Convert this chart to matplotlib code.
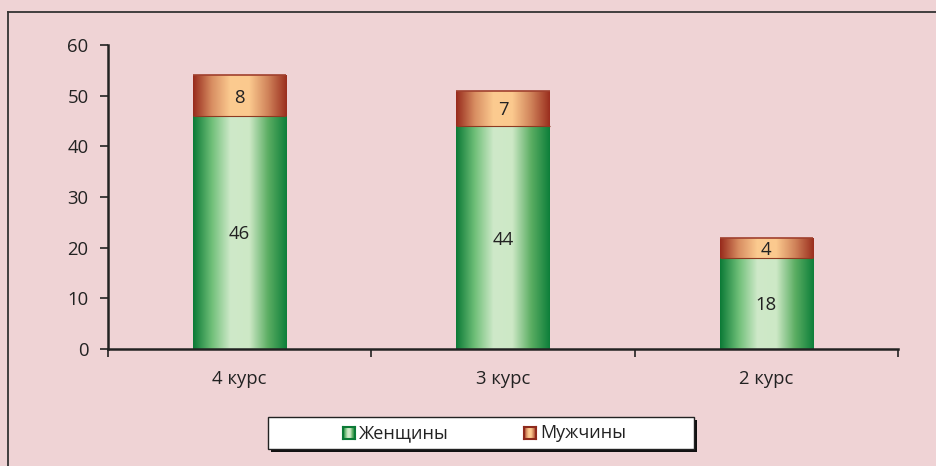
import numpy as np
import matplotlib
matplotlib.use("Agg")
import matplotlib.pyplot as plt
from matplotlib.colors import LinearSegmentedColormap
from matplotlib.patches import Rectangle

categories = ["4 курс", "3 курс", "2 курс"]
women = [46, 44, 18]
men = [8, 7, 4]
series_names = ["Женщины", "Мужчины"]
yticks = [0, 10, 20, 30, 40, 50, 60]

plt.rcParams['font.family'] = ['Open Sans', 'DejaVu Sans']
bg = "#EFD3D5"
fs = 13.3
fig = plt.figure(figsize=(9.36, 4.66), dpi=100, facecolor=bg)
ax = fig.add_axes([108/936, 1-349/466, (898-108)/936, (349-45)/466])
ax.set_facecolor(bg)

green_cmap = LinearSegmentedColormap.from_list("g", ["#0B7A36", "#6FBF78", "#CFE9C9", "#CDE8C6", "#5CAE63", "#0D7F3A"])
orange_cmap = LinearSegmentedColormap.from_list("o", ["#972A1C", "#D88E62", "#FCCB90", "#FBC98E", "#D0835A", "#9A2E1E"])

x = np.arange(len(categories))
w = 0.354
grad = np.linspace(0, 1, 256).reshape(1, -1)

def grad_bar(xc, bottom, height, cmap):
    r = Rectangle((xc - w/2, bottom), w, height, facecolor="none", edgecolor="none")
    ax.add_patch(r)
    im = ax.imshow(grad, cmap=cmap, aspect="auto", extent=(xc - w/2, xc + w/2, bottom, bottom + height),
                   interpolation="bilinear", zorder=2)
    im.set_clip_path(r)
    return r

for i in range(len(categories)):
    grad_bar(x[i], 0, women[i], green_cmap)
    grad_bar(x[i], women[i], men[i], orange_cmap)
    ax.plot([x[i]-w/2, x[i]+w/2], [women[i]+men[i]]*2, color="#A0402E", lw=1.2, zorder=3, solid_capstyle="butt")
    ax.plot([x[i]-w/2, x[i]+w/2], [women[i]]*2, color="#8E3A22", lw=0.8, zorder=3, solid_capstyle="butt")
    ax.text(x[i], women[i]/2, str(women[i]), ha="center", va="center_baseline", fontsize=fs, color="#222222", zorder=4)
    ax.text(x[i], women[i] + men[i]/2, str(men[i]), ha="center", va="center_baseline", fontsize=fs, color="#222222", zorder=4)

ax.set_xlim(-0.5, 2.5)
ax.set_ylim(0, 60)
ax.set_yticks(yticks)
ax.set_yticklabels([str(t) for t in yticks], fontsize=fs, color="#222222")
ax.set_xticks(x)
ax.set_xticklabels(categories, fontsize=fs, color="#222222")
ax.tick_params(axis="x", length=0, pad=15)
ax.set_xticks([-0.5, 0.5, 1.5, 2.5], minor=True)
ax.tick_params(axis="x", which="minor", length=6, width=1.2, color="#222222", direction="out")
ax.tick_params(axis="y", length=6, width=1.2, color="#222222", direction="out", pad=8)
for s in ["top", "right"]:
    ax.spines[s].set_visible(False)
for s in ["left", "bottom"]:
    ax.spines[s].set_linewidth(1.8)
    ax.spines[s].set_color("#222222")

# outer frame (left & top visible)
fig.add_artist(plt.Line2D([8/936, 8/936], [0, 1-12/466], transform=fig.transFigure, color="#333333", lw=1.3))
fig.add_artist(plt.Line2D([8/936, 1], [1-12/466, 1-12/466], transform=fig.transFigure, color="#333333", lw=1.3))

# legend box with shadow
lx0, ly0, lx1, ly1 = 268, 417, 694, 449
fig.add_artist(Rectangle(((lx0+3)/936, 1-(ly1+3)/466), (lx1-lx0)/936, (ly1-ly0)/466,
                         transform=fig.transFigure, facecolor="#111111", edgecolor="none", zorder=1))
fig.add_artist(Rectangle((lx0/936, 1-ly1/466), (lx1-lx0)/936, (ly1-ly0)/466,
                         transform=fig.transFigure, facecolor="white", edgecolor="#222222", lw=1.0, zorder=1.1))

def legend_swatch(px, cmap, edge, label):
    sx, sy, s = px, 427, 12
    axs = fig.add_axes([sx/936, 1-(sy+s)/466, s/936, s/466])
    axs.set_zorder(5)
    axs.imshow(grad, cmap=cmap, aspect="auto", interpolation="bilinear")
    axs.set_xticks([]); axs.set_yticks([])
    for sp in axs.spines.values():
        sp.set_color(edge); sp.set_linewidth(1.5)
    t = fig.text((sx + s + 4)/936, 1-(sy + s/2)/466, label, ha="left", va="center", fontsize=13, color="#222222")
    t.set_zorder(6)

legend_swatch(343, green_cmap, "#0B7A36", series_names[0])
legend_swatch(524, orange_cmap, "#8E2A1C", series_names[1])

fig.savefig("out.png", dpi=100, facecolor=bg)
